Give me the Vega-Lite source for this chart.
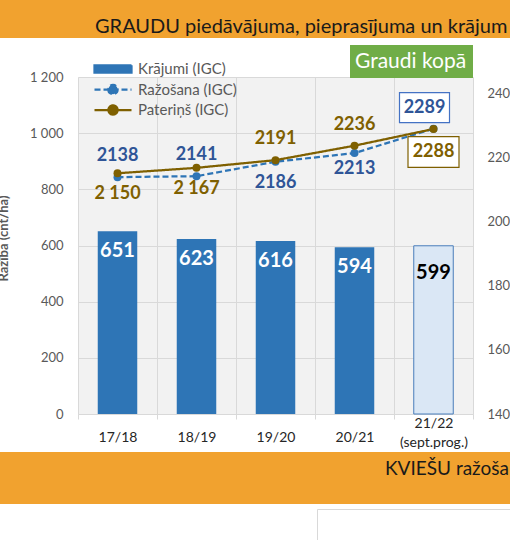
{
  "$schema": "https://vega.github.io/schema/vega-lite/v6.json",
  "padding": 0,
  "background": "white",
  "spacing": 0,
  "config": {
    "font": "Lato",
    "view": {"stroke": null},
    "concat": {"spacing": 0},
    "axis": {"labelFont": "Lato", "titleFont": "Lato"},
    "legend": {"labelFont": "Lato", "padding": 0},
    "text": {"font": "Lato"}
  },
  "vconcat": [
    {
      "width": 510, "height": 38,
      "view": {"fill": "#f1a22f", "stroke": null},
      "data": {"values": [{"t": "GRAUDU piedāvājuma, pieprasījuma un krājumu bilance"}]},
      "mark": {"type": "text", "align": "left", "baseline": "alphabetic", "dx": -160, "dy": 14, "fontSize": 20, "color": "#1a1a1a", "limit": 415, "ellipsis": "\u200b"},
      "encoding": {"text": {"field": "t"}}
    },
    {"width": 510, "height": 7, "data": {"values": []}, "mark": "point"},
    {
      "bounds": "flush", "spacing": 0,
      "resolve": {"scale": {"color": "independent", "shape": "independent", "strokeDash": "independent", "fill": "independent"}},
      "hconcat": [
        {
          "width": 16, "height": 337,
          "data": {"values": [{"t": "Ražība (cnt/ha)"}]},
          "mark": {"type": "text", "angle": 270, "align": "center", "baseline": "alphabetic", "dx": 7, "fontSize": 13, "fontWeight": "bold", "color": "#595959", "clip": true},
          "encoding": {"text": {"field": "t"}}
        },
        {"width": 62, "height": 375, "data": {"values": []}, "mark": "point"},
        {
          "width": 395, "height": 337,
          "view": {"fill": "#f2f2f2", "stroke": null},
          "data": {"values": [
            {"season": "17/18", "Krājumi (IGC)": 651, "Ražošana (IGC)": 2138, "Pateriņš (IGC)": 2150, "razL": "2138", "patL": "2 150"},
            {"season": "18/19", "Krājumi (IGC)": 623, "Ražošana (IGC)": 2141, "Pateriņš (IGC)": 2167, "razL": "2141", "patL": "2 167"},
            {"season": "19/20", "Krājumi (IGC)": 616, "Ražošana (IGC)": 2186, "Pateriņš (IGC)": 2191, "razL": "2186", "patL": "2191"},
            {"season": "20/21", "Krājumi (IGC)": 594, "Ražošana (IGC)": 2213, "Pateriņš (IGC)": 2236, "razL": "2213", "patL": "2236"},
            {"season": "21/22 (sept.prog.)", "Krājumi (IGC)": 599, "Ražošana (IGC)": 2289, "Pateriņš (IGC)": 2288, "razL": "2289", "patL": "2288"}
          ]},
          "encoding": {
            "x": {
              "field": "season", "type": "ordinal", "sort": null,
              "scale": {"paddingInner": 0, "paddingOuter": 0},
              "axis": {
                "title": null, "labelAngle": 0, "labelFontSize": 14, "labelColor": "#262626",
                "labelBaseline": "middle",
                "labelPadding": {"condition": {"test": "datum.value === '21/22 (sept.prog.)'", "value": 4}, "value": 18},
                "labelLineHeight": 19,
                "labelExpr": "split(datum.label, ' ')",
                "domainColor": "#d9d9d9", "tickColor": "#d9d9d9", "tickSize": 5,
                "tickBand": "extent", "grid": true, "gridColor": "#d9d9d9"
              }
            }
          },
          "layer": [
            {
              "transform": [{"fold": ["Krājumi (IGC)"], "as": ["series", "stock"]}],
              "encoding": {
                "y": {
                  "field": "stock", "type": "quantitative",
                  "scale": {"domain": [0, 1200], "nice": false},
                  "axis": {
                    "orient": "left", "title": null, "values": [0, 200, 400, 600, 800, 1000, 1200],
                    "grid": true, "gridColor": "#d9d9d9", "domain": false, "ticks": false,
                    "labelExpr": "replace(format(datum.value, ','), ',', ' ')",
                    "labelPadding": 15, "labelFontSize": 13, "labelColor": "#595959"
                  }
                }
              },
              "layer": [
                {
                  "transform": [{"filter": "datum.season !== '21/22 (sept.prog.)'"}],
                  "mark": {"type": "bar", "width": {"band": 0.5}},
                  "encoding": {
                    "color": {
                      "field": "series", "type": "nominal",
                      "scale": {"domain": ["Krājumi (IGC)", "Ražošana (IGC)", "Pateriņš (IGC)"], "range": ["#2e75b6", "#2e75b6", "#7f6000"]},
                      "legend": {"title": null, "orient": "none", "legendX": 15, "legendY": -18, "clipHeight": 20, "rowPadding": 0.5, "labelOffset": 5, "labelFontSize": 15, "labelColor": "#595959", "symbolSize": 1369, "symbolStrokeWidth": 2.25}
                    }
                  }
                },
                {
                  "transform": [{"filter": "datum.season === '21/22 (sept.prog.)'"}],
                  "mark": {"type": "bar", "width": {"band": 0.5}, "fill": "#dae7f5", "stroke": "#4a7ebb", "strokeWidth": 1}
                },
                {
                  "transform": [{"filter": "datum.season !== '21/22 (sept.prog.)'"}],
                  "mark": {"type": "text", "baseline": "middle", "dy": 20, "fontSize": 20, "fontWeight": "bold", "color": "white"},
                  "encoding": {"text": {"field": "stock", "type": "quantitative"}}
                },
                {
                  "transform": [{"filter": "datum.season === '21/22 (sept.prog.)'"}],
                  "mark": {"type": "text", "baseline": "middle", "dy": 27, "fontSize": 20, "fontWeight": "bold", "color": "black"},
                  "encoding": {"text": {"field": "stock", "type": "quantitative"}}
                }
              ]
            },
            {
              "transform": [{"fold": ["Ražošana (IGC)", "Pateriņš (IGC)"], "as": ["series", "val"]}],
              "encoding": {
                "y": {
                  "field": "val", "type": "quantitative",
                  "scale": {"domain": [1400, 2450], "nice": false, "zero": false},
                  "axis": {
                    "orient": "right", "title": null, "values": [1400, 1600, 1800, 2000, 2200, 2400],
                    "grid": false, "domain": false, "ticks": false, "format": "d",
                    "labelPadding": 14, "labelFontSize": 13, "labelColor": "#595959"
                  }
                }
              },
              "layer": [
                {
                  "mark": {"type": "line", "strokeWidth": 2.25},
                  "encoding": {
                    "color": {
                      "field": "series", "type": "nominal",
                      "scale": {"domain": ["Krājumi (IGC)", "Ražošana (IGC)", "Pateriņš (IGC)"], "range": ["#2e75b6", "#2e75b6", "#7f6000"]},
                      "legend": {"title": null, "orient": "none", "legendX": 15, "legendY": -18, "clipHeight": 20, "rowPadding": 0.5, "labelOffset": 5, "labelFontSize": 15, "labelColor": "#595959", "symbolSize": 1369, "symbolStrokeWidth": 2.25}
                    },
                    "strokeDash": {
                      "field": "series", "type": "nominal",
                      "scale": {"domain": ["Krājumi (IGC)", "Ražošana (IGC)", "Pateriņš (IGC)"], "range": [[1, 0], [6, 3], [1, 0]]},
                      "legend": {"title": null, "orient": "none", "legendX": 15, "legendY": -18, "clipHeight": 20, "rowPadding": 0.5, "labelOffset": 5, "labelFontSize": 15, "labelColor": "#595959", "symbolSize": 1369, "symbolStrokeWidth": 2.25}
                    }
                  }
                },
                {
                  "mark": {"type": "point", "filled": true, "opacity": 1, "size": 64},
                  "encoding": {"color": {"field": "series", "type": "nominal"}}
                },
                {
                  "mark": {"type": "point", "filled": true, "size": 0},
                  "encoding": {
                    "color": {"field": "series", "type": "nominal"},
                    "shape": {
                      "field": "series", "type": "nominal",
                      "scale": {"domain": ["Krājumi (IGC)", "Ražošana (IGC)", "Pateriņš (IGC)"], "range": ["M-1,-0.2L1,-0.2L1,0.2L-1,0.2Z", "M-1,0L1,0M-0.25,0A0.25,0.25,0,1,0,0.25,0A0.25,0.25,0,1,0,-0.25,0Z", "M-1,0L1,0M-0.25,0A0.25,0.25,0,1,0,0.25,0A0.25,0.25,0,1,0,-0.25,0Z"]},
                      "legend": {"title": null, "orient": "none", "legendX": 15, "legendY": -18, "clipHeight": 20, "rowPadding": 0.5, "labelOffset": 5, "labelFontSize": 15, "labelColor": "#595959", "symbolSize": 1369, "symbolStrokeWidth": 2.25}
                    }
                  }
                },
                {
                  "mark": {"type": "point", "filled": true, "size": 0},
                  "encoding": {
                    "fill": {
                      "datum": "Graudi kopā", "type": "nominal",
                      "scale": {"range": ["#70ad47"]},
                      "legend": {"title": null, "orient": "none", "legendX": 272, "legendY": -32, "fillColor": "#70ad47", "padding": 6, "labelColor": "white", "labelFontSize": 21, "labelOffset": -22, "symbolSize": 1, "symbolOpacity": 0, "symbolStrokeWidth": 0}
                    }
                  }
                },
                {
                  "transform": [{"filter": "datum.series === 'Ražošana (IGC)' && datum.season === '21/22 (sept.prog.)'"}],
                  "mark": {"type": "point", "shape": "M-1,-0.6L1,-0.6L1,0.6L-1,0.6Z", "size": 2500, "filled": true, "fill": "white", "stroke": "#4472c4", "strokeWidth": 1.2, "opacity": 1, "xOffset": -9, "yOffset": -21}
                },
                {
                  "transform": [{"filter": "datum.series === 'Pateriņš (IGC)' && datum.season === '21/22 (sept.prog.)'"}],
                  "mark": {"type": "point", "shape": "M-1,-0.6L1,-0.6L1,0.6L-1,0.6Z", "size": 2600, "filled": true, "fill": "white", "stroke": "#7f6000", "strokeWidth": 1.2, "opacity": 1, "yOffset": 23}
                },
                {
                  "transform": [{"filter": "datum.series === 'Ražošana (IGC)' && (datum.season === '17/18' || datum.season === '18/19')"}],
                  "mark": {"type": "text", "baseline": "middle", "dy": -21, "fontSize": 18, "fontWeight": "bold", "color": "#2f5597"},
                  "encoding": {"text": {"field": "razL"}}
                },
                {
                  "transform": [{"filter": "datum.series === 'Ražošana (IGC)' && datum.season === '19/20'"}],
                  "mark": {"type": "text", "baseline": "middle", "dy": 21, "fontSize": 18, "fontWeight": "bold", "color": "#2f5597"},
                  "encoding": {"text": {"field": "razL"}}
                },
                {
                  "transform": [{"filter": "datum.series === 'Ražošana (IGC)' && datum.season === '20/21'"}],
                  "mark": {"type": "text", "baseline": "middle", "dy": 16, "fontSize": 18, "fontWeight": "bold", "color": "#2f5597"},
                  "encoding": {"text": {"field": "razL"}}
                },
                {
                  "transform": [{"filter": "datum.series === 'Ražošana (IGC)' && datum.season === '21/22 (sept.prog.)'"}],
                  "mark": {"type": "text", "baseline": "middle", "dx": -9, "dy": -21, "fontSize": 18, "fontWeight": "bold", "color": "#2f5597"},
                  "encoding": {"text": {"field": "razL"}}
                },
                {
                  "transform": [{"filter": "datum.series === 'Pateriņš (IGC)' && (datum.season === '17/18' || datum.season === '18/19')"}],
                  "mark": {"type": "text", "baseline": "middle", "dy": 21, "fontSize": 18, "fontWeight": "bold", "color": "#7f6000"},
                  "encoding": {"text": {"field": "patL"}}
                },
                {
                  "transform": [{"filter": "datum.series === 'Pateriņš (IGC)' && (datum.season === '19/20' || datum.season === '20/21')"}],
                  "mark": {"type": "text", "baseline": "middle", "dy": -21, "fontSize": 18, "fontWeight": "bold", "color": "#7f6000"},
                  "encoding": {"text": {"field": "patL"}}
                },
                {
                  "transform": [{"filter": "datum.series === 'Pateriņš (IGC)' && datum.season === '21/22 (sept.prog.)'"}],
                  "mark": {"type": "text", "baseline": "middle", "dy": 23, "fontSize": 18, "fontWeight": "bold", "color": "#7f6000"},
                  "encoding": {"text": {"field": "patL"}}
                }
              ]
            }
          ],
          "resolve": {"scale": {"y": "independent"}, "axis": {"y": "independent"}}
        }
      ]
    },
    {
      "width": 510, "height": 52,
      "view": {"fill": "#f1a22f", "stroke": null},
      "data": {"values": [{"t": "KVIEŠU ražošana, patēriņš un krājumi"}]},
      "mark": {"type": "text", "align": "left", "baseline": "alphabetic", "dx": 130, "dy": -3, "fontSize": 19, "color": "#1a1a1a", "limit": 125, "ellipsis": "\u200b"},
      "encoding": {"text": {"field": "t"}}
    },
    {"width": 510, "height": 4, "data": {"values": []}, "mark": "point"},
    {
      "bounds": "flush", "spacing": 0,
      "hconcat": [
        {"width": 317, "height": 32, "data": {"values": []}, "mark": "point"},
        {"width": 193, "height": 32, "view": {"fill": "white", "stroke": "#d9d9d9"}, "data": {"values": []}, "mark": "point"}
      ]
    }
  ]
}
